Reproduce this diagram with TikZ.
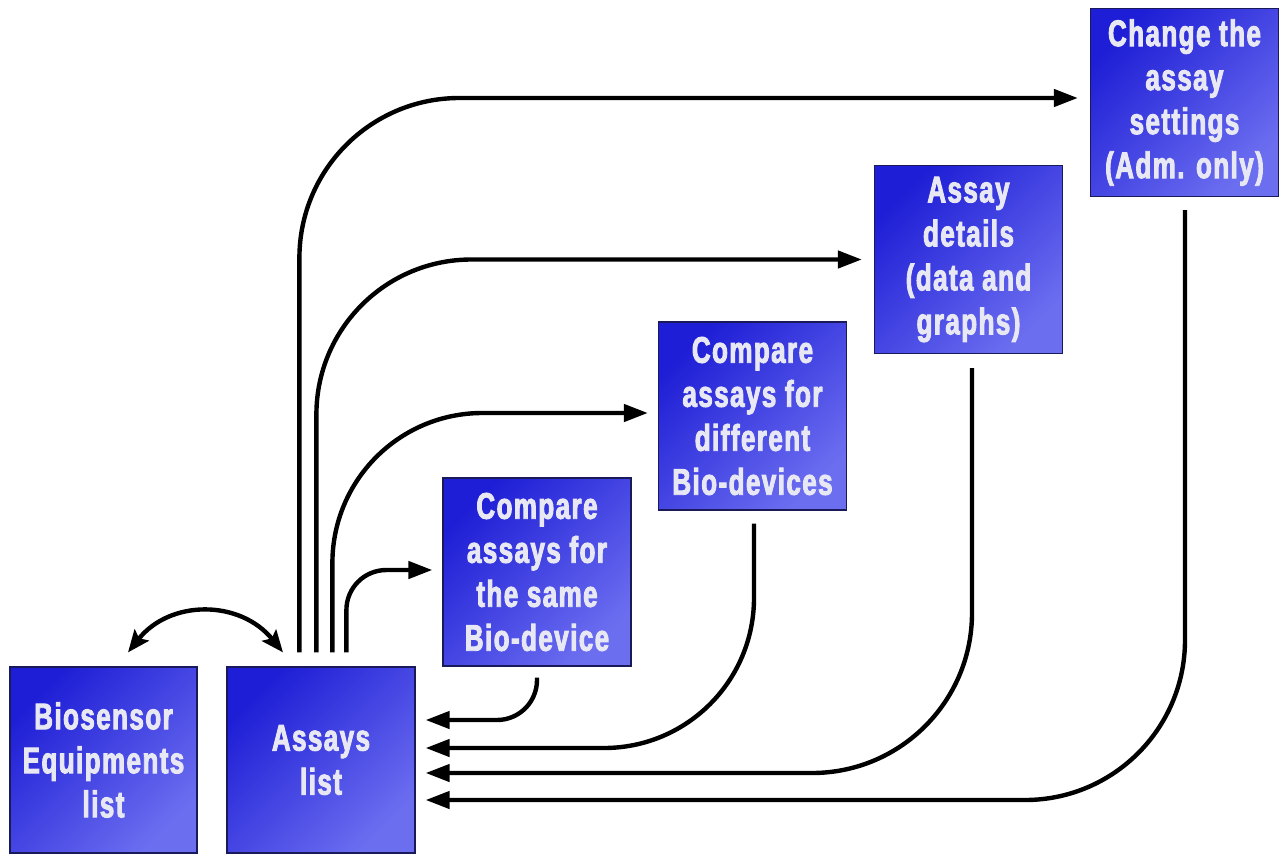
\documentclass[tikz,border=0pt]{standalone}
\usepackage{fontspec}
\newfontfamily\boxfont{Liberation Sans}[FakeStretch=0.7, LetterSpace=4, FakeBold=2.5]
\usetikzlibrary{arrows.meta,calc}
\definecolor{boxdark}{RGB}{30,30,214}
\definecolor{boxlight}{RGB}{108,110,240}
\definecolor{boxline}{RGB}{26,26,90}
\definecolor{boxtext}{RGB}{232,232,244}
\begin{document}
\begin{tikzpicture}[x=1pt,y=-1pt,
  box/.style={draw=boxline, line width=1.2pt, top color=boxdark, bottom color=boxlight,
    shading angle=45, minimum width=188pt, minimum height=188pt, inner sep=0pt,
    align=center, text=boxtext, font=\boxfont\bfseries\fontsize{37pt}{44pt}\selectfont},
  link/.style={line width=4.4pt, -{Triangle[length=24pt,width=17pt]}},
  dbl/.style={line width=4.4pt, {Stealth[length=22pt,width=18pt,inset=4pt]}-{Stealth[length=22pt,width=18pt,inset=4pt]}},
  ]
\useasboundingbox (0,0) rectangle (1287,854);

\node[box, minimum height=186pt, minimum width=187pt] (bio) at (103.5,760) {Biosensor\\Equipments\\list};
\node[box, minimum height=186pt] (assays) at (321,760) {Assays\\list};
\node[box] (same) at (537,572) {Compare\\assays for\\the same\\Bio-device};
\node[box] (diff) at (752.5,416) {Compare\\assays for\\different\\Bio-devices};
\node[box] (details) at (968.5,259.5) {Assay\\details\\(data and\\graphs)};
\node[box] (change) at (1184.5,102.5) {Change the\\assay\\settings\\(Adm. only)};

% bidirectional
\coordinate (d1) at ($(bio.north)+(24.5,-14)$);
\coordinate (d2) at ($(assays.north)+(-38,-14)$);
\draw[dbl] (d1) .. controls ($(d1)+(42,-53)$) and ($(d2)+(-43,-53)$) .. (d2);

% forward links
\coordinate (a1) at ($(assays.north west)+(73,-14)$);
\coordinate (a2) at ($(assays.north west)+(90,-14)$);
\coordinate (a3) at ($(assays.north west)+(106,-14)$);
\coordinate (a4) at ($(assays.north west)+(120,-14)$);
\coordinate (e1) at ($(change.west)+(-12,-4.5)$);
\coordinate (e2) at ($(details.west)+(-12,0)$);
\coordinate (e3) at ($(diff.west)+(-10,-3)$);
\coordinate (e4) at ($(same.west)+(-10,-2)$);
\draw[link, rounded corners=160pt] (a1) |- (e1);
\draw[link, rounded corners=155pt] (a2) |- (e2);
\draw[link, rounded corners=150pt] (a3) |- (e3);
\draw[link, rounded corners=40pt] (a4) |- (e4);

% return links
\coordinate (r1) at ($(same.south)+(0,11)$);
\coordinate (r2) at ($(diff.south)+(1.5,13)$);
\coordinate (r3) at ($(details.south)+(3.5,14)$);
\coordinate (r4) at ($(change.south)+(0.5,13)$);
\coordinate (t1) at ($(assays.east)+(10,-40)$);
\coordinate (t2) at ($(assays.east)+(10,-12)$);
\coordinate (t3) at ($(assays.east)+(10,13)$);
\coordinate (t4) at ($(assays.east)+(10,40)$);
\draw[link, rounded corners=40pt] (r1) |- (t1);
\draw[link, rounded corners=150pt] (r2) |- (t2);
\draw[link, rounded corners=160pt] (r3) |- (t3);
\draw[link, rounded corners=160pt] (r4) |- (t4);
\end{tikzpicture}
\end{document}
